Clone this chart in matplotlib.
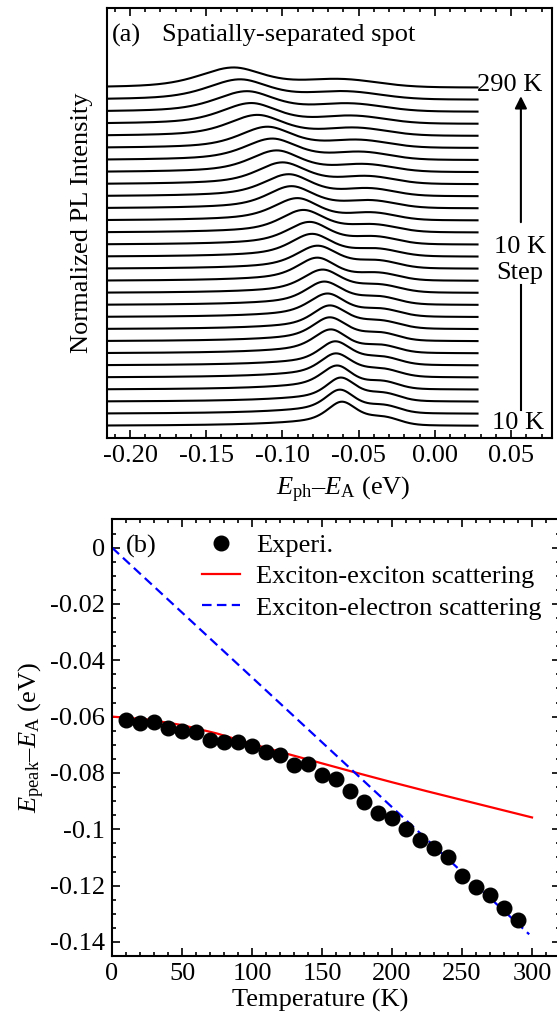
"""Temperature-dependent PL spectra of a separated spot and the peak-shift fits."""

import numpy as np
import matplotlib

matplotlib.use("Agg")
import matplotlib.pyplot as plt
from matplotlib.ticker import FixedLocator, MultipleLocator

# ---- temperature series (10 K step) ----
temps = [10, 20, 30, 40, 50, 60, 70, 80, 90, 100, 110, 120, 130, 140, 150,
         160, 170, 180, 190, 200, 210, 220, 230, 240, 250, 260, 270, 280, 290]

# peak energy E_peak - E_A (eV) for each temperature
peak_e = [-0.0611, -0.0624, -0.0618, -0.0642, -0.0650, -0.0654, -0.0683, -0.0690,
          -0.0690, -0.0705, -0.0726, -0.0737, -0.0772, -0.0770, -0.0806, -0.0822,
          -0.0863, -0.0902, -0.0941, -0.0959, -0.1000, -0.1038, -0.1067, -0.1099,
          -0.1165, -0.1205, -0.1234, -0.1279, -0.1322]

# line-shape parameters of each normalized spectrum
main_amp = [1.55, 1.55, 1.55, 1.56, 1.56, 1.57, 1.57, 1.58, 1.57, 1.57, 1.57, 1.57,
            1.57, 1.57, 1.56, 1.56, 1.56, 1.55, 1.55, 1.55, 1.54, 1.55, 1.55, 1.55,
            1.55, 1.54, 1.53, 1.53, 1.52]
tail_amp = [0.45, 0.45, 0.45, 0.44, 0.44, 0.43, 0.42, 0.41, 0.40, 0.39, 0.38, 0.37,
            0.36, 0.35, 0.34, 0.33, 0.32, 0.31, 0.30, 0.29, 0.28, 0.26, 0.24, 0.22,
            0.20, 0.19, 0.18, 0.16, 0.15]
width_lo = [0.011, 0.011, 0.011, 0.012, 0.012, 0.012, 0.013, 0.013, 0.013, 0.014,
            0.014, 0.015, 0.015, 0.016, 0.016, 0.017, 0.017, 0.018, 0.018, 0.019,
            0.019, 0.020, 0.021, 0.021, 0.022, 0.023, 0.024, 0.025, 0.026]
width_hi = [0.013, 0.013, 0.013, 0.013, 0.014, 0.014, 0.014, 0.015, 0.015, 0.015,
            0.016, 0.016, 0.016, 0.017, 0.017, 0.017, 0.018, 0.018, 0.019, 0.019,
            0.020, 0.020, 0.021, 0.021, 0.022, 0.022, 0.023, 0.024, 0.025]
shoulder_e = [-0.033, -0.033, -0.033, -0.034, -0.034, -0.034, -0.035, -0.035, -0.035,
              -0.035, -0.036, -0.036, -0.037, -0.037, -0.038, -0.039, -0.040, -0.041,
              -0.042, -0.043, -0.044, -0.046, -0.048, -0.050, -0.052, -0.054, -0.056,
              -0.059, -0.062]
shoulder_w = [0.010, 0.010, 0.010, 0.010, 0.011, 0.011, 0.011, 0.011, 0.012, 0.012,
              0.012, 0.013, 0.013, 0.013, 0.014, 0.014, 0.015, 0.015, 0.016, 0.016,
              0.017, 0.018, 0.018, 0.019, 0.020, 0.021, 0.022, 0.023, 0.024]
shoulder_amp = [0.55, 0.55, 0.55, 0.55, 0.55, 0.55, 0.55, 0.55, 0.55, 0.55, 0.55,
                0.55, 0.55, 0.55, 0.55, 0.56, 0.56, 0.56, 0.57, 0.57, 0.58, 0.58,
                0.59, 0.59, 0.60, 0.60, 0.61, 0.61, 0.62]
TAIL_WIDTH = 0.045

# ---- model curves for panel (b) ----
xx_temp = [0, 25, 50, 75, 100, 125, 150, 175, 200, 225, 250, 275, 300]
xx_fit = [-0.0600, -0.0610, -0.0630, -0.0660, -0.0697, -0.0732, -0.0766, -0.0800,
          -0.0833, -0.0865, -0.0896, -0.0927, -0.0958]
xe_temp = [0, 298]
xe_fit = [0.0, -0.1373]

# axis ticks
a_xticks = [-0.20, -0.15, -0.10, -0.05, 0.00, 0.05]
a_xticklabels = ["-0.20", "-0.15", "-0.10", "-0.05", "0.00", "0.05"]
b_yticks = [0.0, -0.02, -0.04, -0.06, -0.08, -0.10, -0.12, -0.14]
b_yticklabels = ["0", "-0.02", "-0.04", "-0.06", "-0.08", "-0.1", "-0.12", "-0.14"]
b_xticks = [0, 50, 100, 150, 200, 250, 300]

plt.rcParams.update({
    "font.family": "Liberation Serif",
    "font.size": 19,
    "mathtext.fontset": "custom",
    "mathtext.rm": "Liberation Serif",
    "mathtext.it": "Liberation Serif:italic",
    "axes.unicode_minus": False,
    "axes.linewidth": 1.5,
})


def pseudo_voigt(x, x0, w, eta):
    d = (x - x0) / w
    return eta / (1 + d * d) + (1 - eta) * np.exp(-np.log(2) * d * d)


def spectrum(x, i):
    """Main exciton line with a broad low-energy wing plus a high-energy shoulder."""
    x0 = peak_e[i]
    low_side = (main_amp[i] * pseudo_voigt(x, x0, width_lo[i], 0.5)
                + tail_amp[i] / (1 + ((x - x0) / TAIL_WIDTH) ** 2))
    high_side = (main_amp[i] + tail_amp[i]) * pseudo_voigt(x, x0, width_hi[i], 0.6)
    main = np.where(x < x0, low_side, high_side)
    shoulder = np.exp(-0.5 * ((x - shoulder_e[i]) / shoulder_w[i]) ** 2)
    return main + shoulder_amp[i] * shoulder


def style_ticks(ax):
    ax.tick_params(which="both", direction="in", width=1.2)
    ax.tick_params(which="major", length=6, pad=5)
    ax.tick_params(which="minor", length=3.2)


fig = plt.figure(figsize=(5.57, 10.14), dpi=100)

# ---- (a) stacked spectra ----
ax1 = fig.add_axes([0.1921, 0.568, 0.799, 0.4241])
energy = np.linspace(-0.2151, 0.028, 700)
for i in range(len(temps)):
    ax1.plot(energy, i + spectrum(energy, i), color="k", lw=1.5)

ax1.set_xlim(-0.2151, 0.0769)
ax1.set_ylim(-1.0, 34.6)
ax1.xaxis.set_major_locator(FixedLocator(a_xticks))
ax1.set_xticklabels(a_xticklabels)
ax1.xaxis.set_minor_locator(MultipleLocator(0.01))
ax1.set_yticks([])
style_ticks(ax1)
ax1.tick_params(axis="x", which="both", top=True)
ax1.set_xlabel(r"$E_{\mathrm{ph}}$–$E_{\mathrm{A}}$ (eV)")
ax1.xaxis.set_label_coords(0.53, -0.086)
ax1.set_ylabel("Normalized PL Intensity")
ax1.yaxis.set_label_coords(-0.031, 0.5)

ax1.text(0.011, 0.937, "(a)", transform=ax1.transAxes, va="center", ha="left")
ax1.text(0.124, 0.937, "Spatially-separated spot", transform=ax1.transAxes,
         va="center", ha="left")
ax1.text(0.831, 0.821, "290 K", transform=ax1.transAxes, va="center", ha="left")
ax1.annotate("", xy=(0.930, 0.795), xytext=(0.930, 0.502),
             xycoords="axes fraction", textcoords="axes fraction",
             arrowprops=dict(arrowstyle="-|>", lw=1.5, color="k",
                             mutation_scale=18, shrinkA=0, shrinkB=0))
ax1.text(0.928, 0.444, "10 K", transform=ax1.transAxes, va="center", ha="center")
ax1.text(0.928, 0.384, "Step", transform=ax1.transAxes, va="center", ha="center")
ax1.plot([0.930, 0.930], [0.356, 0.065], color="k", lw=1.5,
         transform=ax1.transAxes)
ax1.text(0.924, 0.035, "10 K", transform=ax1.transAxes, va="center", ha="center")

# ---- (b) peak energy vs temperature ----
ax2 = fig.add_axes([0.2011, 0.0572, 0.8043, 0.4305])
h_red, = ax2.plot(xx_temp, xx_fit, color="#ff0000", lw=1.6, zorder=2)
h_blue, = ax2.plot(xe_temp, xe_fit, color="#0000ff", lw=1.6,
                   linestyle=(0, (4.3, 2.4)), zorder=2)
h_pts, = ax2.plot(temps, peak_e, "o", color="k", markersize=10.5, zorder=3)

ax2.set_xlim(0, 320)
ax2.set_ylim(-0.145, 0.01)
ax2.xaxis.set_major_locator(FixedLocator(b_xticks))
ax2.xaxis.set_minor_locator(MultipleLocator(10))
ax2.yaxis.set_major_locator(FixedLocator(b_yticks))
ax2.set_yticklabels(b_yticklabels)
ax2.yaxis.set_minor_locator(MultipleLocator(0.005))
style_ticks(ax2)
ax2.tick_params(which="both", top=True, right=True)
ax2.set_xlabel("Temperature (K)")
ax2.xaxis.set_label_coords(0.465, -0.075)
ax2.set_ylabel(r"$E_{\mathrm{peak}}$–$E_{\mathrm{A}}$ (eV)")
ax2.yaxis.set_label_coords(-0.145, 0.5)

ax2.text(0.031, 0.939, "(b)", transform=ax2.transAxes, va="center", ha="left")
ax2.legend([h_pts, h_red, h_blue],
           ["Experi.", "Exciton-exciton scattering", "Exciton-electron scattering"],
           loc="upper left", bbox_to_anchor=(0.201, 0.968), frameon=False,
           borderpad=0, borderaxespad=0, handlelength=1.45, handletextpad=0.6,
           labelspacing=0.3, numpoints=1)

fig.savefig("out.png", dpi=100)
